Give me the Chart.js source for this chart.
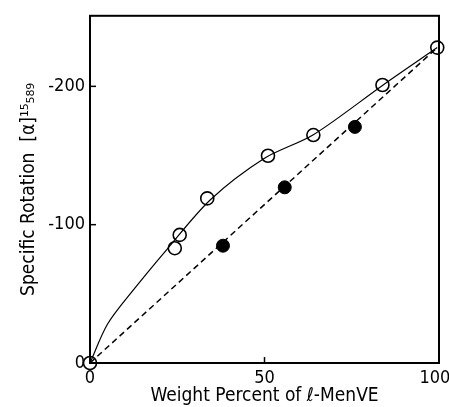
<!DOCTYPE html>
<html>
<head>
<meta charset="utf-8">
<script src="https://cdn.jsdelivr.net/npm/chart.js@4"></script>
<style>
  body { margin: 0; background: #fff; }
  canvas { display: block; }
</style>
</head>
<body>
<canvas id="chart" width="449" height="407"></canvas>
<script>
// open circles (measured), filled circles, fitted curve, ideal line
const openX = [0, 24.3, 25.7, 33.6, 51, 64, 83.8, 99.5];
const openY = [0, -83, -92.6, -119, -149.8, -164.8, -201, -228];

const filledX = [38.1, 55.8, 75.9];
const filledY = [-84.8, -127, -170.7];

const curveX = [0, 5, 12.5, 22, 34.5, 50, 64, 84, 99.5];
const curveY = [0, -28, -53, -82, -118, -148, -165, -201, -228];

const lineX = [0, 99.5];
const lineY = [0, -228];

const xTicks = [0, 50, 100];
const yTicks = [0, -100, -200];

const pts = (xs, ys) => xs.map((x, i) => ({ x: x, y: ys[i] }));

const font = "'DejaVu Sans Condensed', 'Liberation Sans', sans-serif";

// frame around the plot plus small inward tick marks
const framePlugin = {
    id: 'frame',
    afterDraw(chart) {
        const ctx = chart.ctx;
        const a = chart.chartArea;
        const xs = chart.scales.x, ys = chart.scales.y;
        ctx.save();
        ctx.strokeStyle = '#000';
        ctx.lineWidth = 2;
        ctx.strokeRect(a.left, a.top, a.right - a.left, a.bottom - a.top);
        ctx.lineWidth = 1.5;
        [50].forEach(v => {
            const px = xs.getPixelForValue(v);
            ctx.beginPath();
            ctx.moveTo(px, a.bottom);
            ctx.lineTo(px, a.bottom - 6);
            ctx.stroke();
        });
        [-100, -200].forEach(v => {
            const py = ys.getPixelForValue(v);
            ctx.beginPath();
            ctx.moveTo(a.left, py);
            ctx.lineTo(a.left + 6, py);
            ctx.stroke();
        });
        ctx.restore();
    }
};

new Chart(document.getElementById('chart'), {
    type: 'scatter',
    data: {
        datasets: [
            {
                data: pts(lineX, lineY),
                showLine: true,
                borderColor: '#000',
                borderWidth: 1.5,
                borderDash: [6, 4],
                pointRadius: 0
            },
            {
                data: pts(curveX, curveY),
                showLine: true,
                borderColor: '#000',
                borderWidth: 1.2,
                tension: 0.3,
                pointRadius: 0
            },
            {
                data: pts(filledX, filledY),
                pointRadius: 6.5,
                pointBackgroundColor: '#000',
                pointBorderColor: '#000',
                pointBorderWidth: 1
            },
            {
                data: pts(openX, openY),
                pointRadius: 6.5,
                pointBackgroundColor: '#fff',
                pointBorderColor: '#000',
                pointBorderWidth: 1.6
            }
        ]
    },
    options: {
        responsive: false,
        animation: false,
        clip: false,
        layout: { padding: { top: 12, right: 10, left: 0, bottom: 0 } },
        plugins: { legend: { display: false }, tooltip: { enabled: false } },
        scales: {
            x: {
                type: 'linear',
                min: 0,
                max: 100,
                afterBuildTicks: axis => { axis.ticks = xTicks.map(v => ({ value: v })); },
                afterFit: axis => { axis.height = 44; axis.paddingRight = 0; axis.paddingLeft = 0; },
                grid: { display: false, drawTicks: false },
                border: { display: false },
                ticks: {
                    color: '#000',
                    padding: 5,
                    maxRotation: 0,
                    font: { family: font, size: 18 },
                    // nudge the last label left so it stays inside the canvas
                    callback: v => (v === 100 ? '100\u2002' : String(v))
                },
                title: {
                    display: true,
                    text: 'Weight Percent of ℓ-MenVE',
                    color: '#000',
                    padding: { top: 0, bottom: 0 },
                    font: { family: font, size: 19 }
                }
            },
            y: {
                type: 'linear',
                min: -251,
                max: 0,
                reverse: true,
                afterBuildTicks: axis => { axis.ticks = yTicks.map(v => ({ value: v })); },
                afterFit: axis => { axis.width = 90; },
                grid: { display: false, drawTicks: false },
                border: { display: false },
                ticks: { color: '#000', padding: 5, font: { family: font, size: 18 } },
                title: {
                    display: true,
                    text: 'Specific Rotation  [α]¹⁵₅₈₉',
                    color: '#000',
                    padding: { top: 18, bottom: 0 },
                    font: { family: font, size: 19 }
                }
            }
        }
    },
    plugins: [framePlugin]
});
</script>
</body>
</html>
